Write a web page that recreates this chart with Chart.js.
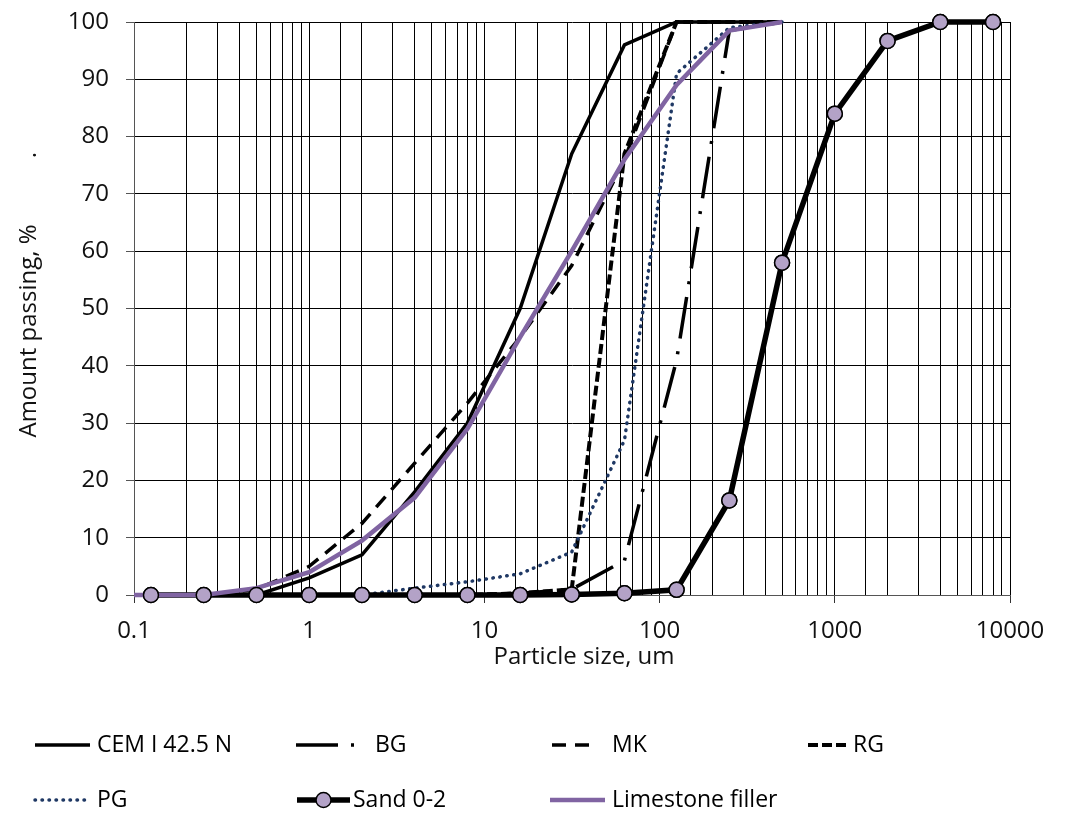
<!DOCTYPE html>
<html>
<head>
<meta charset="utf-8">
<script src="https://cdn.jsdelivr.net/npm/chart.js@4.4.1/dist/chart.umd.min.js"></script>
<style>
  html, body { margin: 0; padding: 0; background: #fff; }
</style>
</head>
<body>
<canvas id="grading" width="1069" height="814"></canvas>
<script>
// particle size, um
const sizes = [0.1, 0.125, 0.25, 0.5, 1, 2, 4, 8, 16, 31.5, 63, 125, 250, 500, 1000, 2000, 4000, 8000];

// amount passing, %  (null = no point)
const cemPassing       = [null, 0, 0, 0, 3, 7, 18, 30, 50, 77, 96, 100, 100, 100, null, null, null, null];
const bgPassing        = [null, 0, 0, 0, 0, 0, 0, 0, 0.3, 1, 6, 41, 98.5, 100, null, null, null, null];
const mkPassing        = [null, 0, 0, 1, 5, 12.5, 23, 33.5, 45, 57.5, 76, 100, 100, 100, null, null, null, null];
const rgPassing        = [null, 0, 0, 0, 0, 0, 0, 0, 0.3, 1, 77, 100, 100, 100, null, null, null, null];
const pgPassing        = [null, 0, 0, 0, 0, 0, 1.2, 2.3, 3.7, 7.5, 27, 91, 99, 100, null, null, null, null];
const sandPassing      = [null, 0, 0, 0, 0, 0, 0, 0, 0, 0.1, 0.3, 0.9, 16.5, 58, 84, 96.7, 100, 100];
const limestonePassing = [0, 0, 0, 1.2, 4, 9.5, 17, 29, 45, 60, 76, 89, 98.5, 100, null, null, null, null];

const seriesNames = ["CEM I 42.5 N", "BG", "MK", "RG", "PG", "Sand 0-2", "Limestone filler"];
const xTickLabels = ["0.1", "1", "10", "100", "1000", "10000"];

const FONT = "'Open Sans', sans-serif";

function toPoints(values) {
  let pts = [];
  for (let i = 0; i < sizes.length; i++) {
    if (values[i] !== null) pts.push({ x: sizes[i], y: values[i] });
  }
  return pts;
}

function isDecade(v) {
  const l = Math.log10(v);
  return Math.abs(l - Math.round(l)) < 1e-9;
}

// legend slots: sample line start/end, text start, row y
const legendSlots = [
  { x1: 35, x2: 90, tx: 97, y: 745 },
  { x1: 296, x2: 355, tx: 375, y: 745 },
  { x1: 552, x2: 590, tx: 612, y: 745 },
  { x1: 808, x2: 848, tx: 853, y: 745 },
  { x1: 35, x2: 86, tx: 97, y: 800 },
  { x1: 297, x2: 350, tx: 353, y: 800 },
  { x1: 550, x2: 605, tx: 612, y: 800 },
];

const extras = {
  id: "extras",
  afterDatasetsDraw(chart) {
    // sand markers sit above every line
    const ctx = chart.ctx;
    const meta = chart.getDatasetMeta(5);
    ctx.save();
    meta.data.forEach((p) => p.draw(ctx, chart.chartArea));
    ctx.restore();
  },
  afterDraw(chart) {
    const ctx = chart.ctx;
    ctx.save();
    // axis titles
    ctx.fillStyle = "#111";
    ctx.font = "24px " + FONT;
    ctx.textAlign = "center";
    ctx.textBaseline = "middle";
    ctx.fillText("Particle size, um", 584, 657);
    ctx.save();
    ctx.translate(29, 331);
    ctx.rotate(-Math.PI / 2);
    ctx.fillText("Amount passing, %", 0, 0);
    ctx.restore();
    ctx.save();
    ctx.translate(29, 155);
    ctx.rotate(-Math.PI / 2);
    ctx.fillText(".", 0, 0);
    ctx.restore();

    // legend
    chart.data.datasets.forEach((ds, i) => {
      const s = legendSlots[i];
      ctx.save();
      ctx.strokeStyle = ds.borderColor;
      ctx.lineWidth = ds.borderWidth;
      ctx.setLineDash(ds.borderDash || []);
      ctx.lineCap = ds.borderCapStyle || "butt";
      ctx.beginPath();
      ctx.moveTo(s.x1, s.y);
      ctx.lineTo(s.x2, s.y);
      ctx.stroke();
      if (ds.pointRadius) {
        ctx.setLineDash([]);
        ctx.beginPath();
        ctx.arc((s.x1 + s.x2) / 2, s.y, ds.pointRadius, 0, Math.PI * 2);
        ctx.fillStyle = ds.pointBackgroundColor;
        ctx.fill();
        ctx.lineWidth = ds.pointBorderWidth;
        ctx.strokeStyle = ds.pointBorderColor;
        ctx.stroke();
      }
      ctx.fillStyle = "#000";
      ctx.font = "23px " + FONT;
      ctx.textAlign = "left";
      ctx.textBaseline = "middle";
      ctx.fillText(seriesNames[i], s.tx, s.y);
      ctx.restore();
    });
    ctx.restore();
  },
};

function lineSet(idx, values, style) {
  return Object.assign({
    label: seriesNames[idx],
    data: toPoints(values),
    showLine: true,
    borderColor: "#000",
    backgroundColor: "#000",
    borderWidth: 3.5,
    pointRadius: 0,
    pointHoverRadius: 0,
    tension: 0,
    clip: false,
    order: 6 - idx,
  }, style);
}

const datasets = [
  lineSet(0, cemPassing, {}),
  lineSet(1, bgPassing, { borderDash: [42, 13, 3, 13] }),
  lineSet(2, mkPassing, { borderDash: [14, 9] }),
  lineSet(3, rgPassing, { borderWidth: 4, borderDash: [10, 4] }),
  lineSet(4, pgPassing, { borderColor: "#1f3864", borderDash: [0.5, 6.5], borderCapStyle: "round" }),
  lineSet(5, sandPassing, {
    borderWidth: 5.5,
    pointRadius: 7.5,
    pointHoverRadius: 7.5,
    pointBackgroundColor: "#b3a2c7",
    pointBorderColor: "#000",
    pointBorderWidth: 1.5,
  }),
  lineSet(6, limestonePassing, { borderColor: "#8064a2", backgroundColor: "#8064a2", borderWidth: 4.5 }),
];

const config = {
  type: "scatter",
  data: { datasets: datasets },
  options: {
    responsive: false,
    animation: false,
    devicePixelRatio: 1,
    layout: { padding: { left: 0, right: 59, top: 22, bottom: 0 } },
    plugins: { legend: { display: false }, tooltip: { enabled: false } },
    scales: {
      x: {
        type: "logarithmic",
        min: 0.1,
        max: 10000,
        afterFit: (s) => { s.height = 219; s.paddingLeft = 0; s.paddingRight = 0; },
        border: { display: true, color: "#555", width: 1 },
        grid: {
          color: "#000",
          lineWidth: 1,
          tickLength: 8,
          tickColor: (c) => (c.tick && isDecade(c.tick.value) ? "#333" : "rgba(0,0,0,0)"),
        },
        ticks: {
          autoSkip: false,
          maxRotation: 0,
          padding: 14,
          color: "#111",
          font: { family: FONT, size: 24 },
          callback: (v) => (isDecade(v) ? xTickLabels[Math.round(Math.log10(v)) + 1] : ""),
        },
      },
      y: {
        min: 0,
        max: 100,
        afterFit: (s) => { s.width = 134; s.paddingTop = 0; s.paddingBottom = 0; },
        border: { display: true, color: "#555", width: 1 },
        grid: { color: "#000", lineWidth: 1, tickLength: 8, tickColor: "#555" },
        ticks: {
          stepSize: 10,
          padding: 17,
          color: "#111",
          font: { family: FONT, size: 24 },
        },
      },
    },
  },
  plugins: [extras],
};

let chartGrading = new Chart(document.getElementById("grading"), config);
</script>
</body>
</html>
